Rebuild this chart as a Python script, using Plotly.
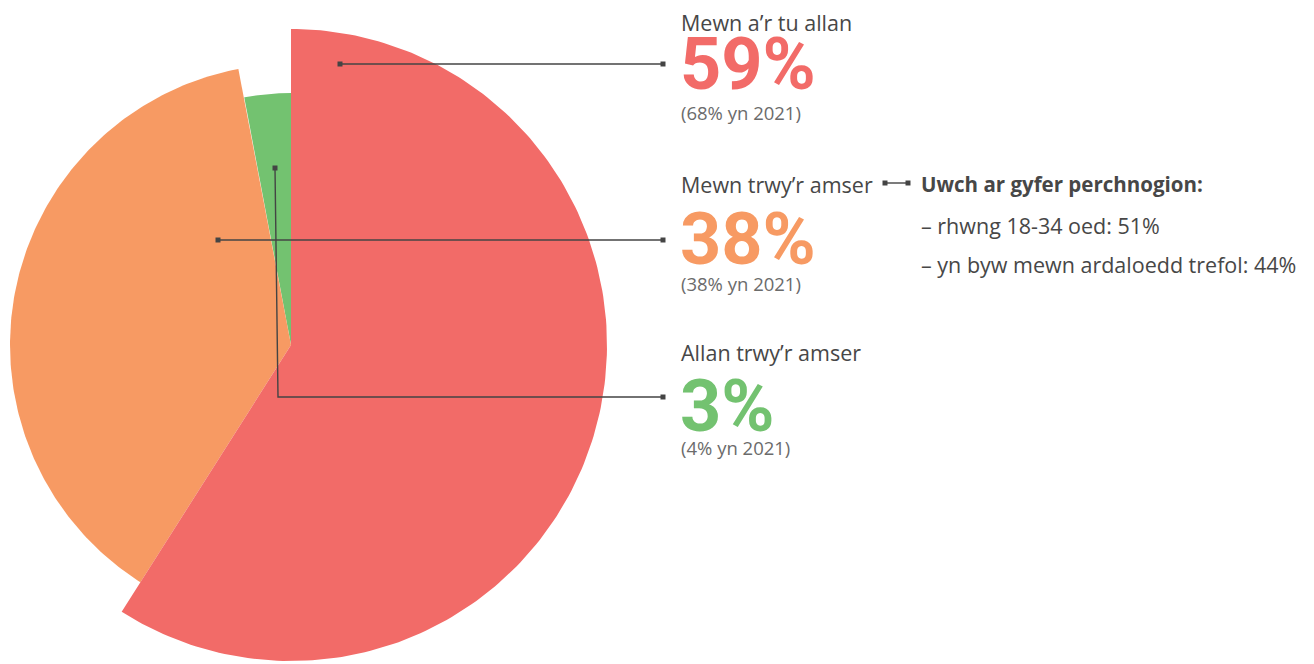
import numpy as np
import plotly.graph_objects as go

# Shares of respondents by category (percent)
categories = ["Mewn a\u2019r tu allan", "Mewn trwy\u2019r amser", "Allan trwy\u2019r amser"]
share_2023 = [59, 38, 3]
share_2021 = [68, 38, 4]

# Detail note attached to the middle category
note_title = "Uwch ar gyfer perchnogion:"
note_lines = ["\u2013 rhwng 18-34 oed: 51%", "\u2013 yn byw mewn ardaloedd trefol: 44%"]

# Styling
colors = ["#F26B68", "#F79A63", "#73C270"]
radii = [316, 281, 252]          # each slice has its own outer radius (px)
cx, cy = 291, 345                # pie centre in page pixels
W, H = 1314, 664
text_grey = "#474747"
sub_grey = "#6b6b6b"
line_grey = "#444444"
FONT = "Open Sans"
BIG_FONT = "Roboto"

fig = go.Figure()

# Slices: angles measured clockwise from 12 o'clock, proportional to share
total = sum(share_2023)
bounds = np.concatenate([[0], np.cumsum(share_2023)]) / total * 2 * np.pi
order = [2, 1, 0]  # draw the larger slices last
for i in order:
    a = np.linspace(bounds[i], bounds[i + 1], 200)
    xs = np.concatenate([[cx], cx + radii[i] * np.sin(a), [cx]])
    ys = np.concatenate([[cy], cy - radii[i] * np.cos(a), [cy]])
    fig.add_trace(go.Scatter(
        x=xs, y=ys, mode="lines", fill="toself", fillcolor=colors[i],
        line=dict(width=0, color=colors[i]), hoverinfo="skip", showlegend=False,
    ))

# Leader lines from slices to their labels
leaders = [
    ([340, 663], [64, 64]),
    ([218, 663], [240, 240]),
    ([275, 278, 663], [168, 397, 397]),
    ([885, 908], [183, 183]),
]
for lx, ly in leaders:
    fig.add_trace(go.Scatter(
        x=lx, y=ly, mode="lines", line=dict(color=line_grey, width=1.4),
        hoverinfo="skip", showlegend=False,
    ))
    fig.add_trace(go.Scatter(
        x=[lx[0], lx[-1]], y=[ly[0], ly[-1]], mode="markers",
        marker=dict(symbol="square", size=5, color=line_grey),
        hoverinfo="skip", showlegend=False,
    ))

# Category labels, big percentages and the 2021 comparison
label_y = [22, 184, 352]
big_y = [64, 239, 406]
sub_y = [112, 283, 447]
tx = 679
for i in range(3):
    fig.add_annotation(x=tx, y=label_y[i], text=categories[i], showarrow=False,
                       xanchor="left", yanchor="middle",
                       font=dict(family=FONT, size=21.5, color=text_grey))
    fig.add_annotation(x=tx - 1, y=big_y[i], text=f"<b>{share_2023[i]}%</b>", showarrow=False,
                       xanchor="left", yanchor="middle",
                       font=dict(family=BIG_FONT, size=72, color=colors[i]))
    fig.add_annotation(x=tx, y=sub_y[i], text=f"({share_2021[i]}% yn 2021)", showarrow=False,
                       xanchor="left", yanchor="middle",
                       font=dict(family=FONT, size=18.5, color=sub_grey))

fig.add_annotation(x=919, y=184, text=f"<b>{note_title}</b>", showarrow=False,
                   xanchor="left", yanchor="middle",
                   font=dict(family=FONT, size=20.5, color=text_grey))
for k, line in enumerate(note_lines):
    fig.add_annotation(x=919, y=225 + 39 * k, text=line, showarrow=False,
                       xanchor="left", yanchor="middle",
                       font=dict(family=FONT, size=21.5, color=text_grey))

fig.update_layout(
    width=W, height=H,
    margin=dict(l=0, r=0, t=0, b=0),
    paper_bgcolor="white", plot_bgcolor="white",
    xaxis=dict(range=[0, W], visible=False, fixedrange=True),
    yaxis=dict(range=[H, 0], visible=False, fixedrange=True),
    hovermode=False,
)

fig.write_html("out.html", config={"displayModeBar": False})
